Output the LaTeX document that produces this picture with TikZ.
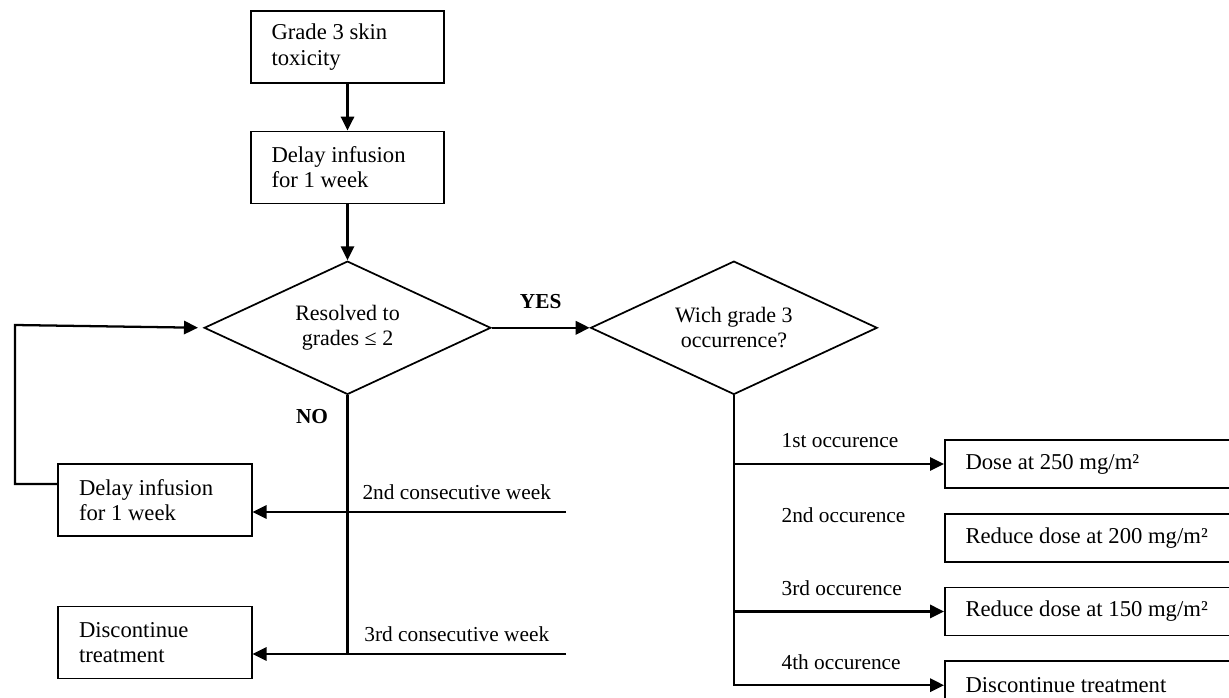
\documentclass[tikz,border=0pt]{standalone}
\usepackage{fontspec}
\setmainfont{Liberation Serif}
\usetikzlibrary{shapes.geometric,arrows.meta,positioning,calc}

\begin{document}
\begin{tikzpicture}[
    x=0.75pt, y=-0.75pt,
    font=\fontsize{16}{19}\selectfont,
    node distance=35pt,
    block/.style={rectangle, draw, line width=1.3pt, font=\fontsize{17}{19}\selectfont, text width=114pt, align=flush left, inner xsep=15.5pt, minimum height=54pt},
    dosebox/.style={rectangle, draw, line width=1.3pt, font=\fontsize{17}{19}\selectfont, text width=194pt, align=flush left, inner xsep=15.5pt, minimum height=36pt},
    decision/.style={diamond, draw, line width=1.3pt, font=\fontsize{16.5}{19}\selectfont, aspect=2.16, minimum width=215pt, minimum height=100pt, inner sep=0pt, align=center},
    line/.style={draw, line width=1.7pt, -{Triangle[length=10.5pt, width=10pt]}},
    plain/.style={draw, line width=1.7pt},
    thinline/.style={draw, line width=1.2pt}
]
    \useasboundingbox (0,0) rectangle (1229,697);
    \clip (0,0) rectangle (1229,697);

    % main column
    \node [block] (skin) at (347.5,47) {Grade 3 skin\\toxicity};
    \node [block, below=of skin] (delay) {Delay infusion\\for 1 week};
    \node [decision, below=42pt of delay] (resolved) {Resolved to\\grades ≤ 2};
    \node [decision, right=73.5pt of resolved] (which) {Wich grade 3\\occurrence?};

    % NO branch
    \node [block] (redelay) at (155,500) {Delay infusion\\for 1 week};
    \node [block] (stop) at (155,642.5) {Discontinue\\treatment};

    % YES branch
    \node [dosebox, anchor=west] (dose1) at (944,464) {Dose at 250 mg/m²};
    \node [dosebox, below=18pt of dose1] (dose2) {Reduce dose at 200 mg/m²};
    \node [dosebox, below=18pt of dose2] (dose3) {Reduce dose at 150 mg/m²};
    \node [dosebox, below=18pt of dose3] (dose4) {Discontinue treatment};

    \coordinate (w2) at (566,512);
    \coordinate (w3) at (566,654);
    \coordinate (back) at (15,325);

    \draw [line] (skin) -- (delay);
    \draw [line] (delay) -- (resolved);
    \draw [line] (resolved) -- node[above=10pt] (yes) {\textbf{YES}} (which);

    \node (no) at (312,417) {\textbf{NO}};
    \draw [plain] (resolved.south) -- (resolved.south |- w3);
    \draw [thinline] (w2) -- node[above=5.5pt] (wk2) {2nd consecutive week} (resolved.south |- w2);
    \draw [line] (resolved.south |- w2) -- (w2 -| redelay.east);
    \draw [thinline] (w3) -- node[above=5.5pt] (wk3) {3rd consecutive week} (resolved.south |- w3);
    \draw [line] (resolved.south |- w3) -- (w3 -| stop.east);
    \draw [line, shorten >=4pt] ([yshift=12pt]redelay.west) -| (back) -- (resolved.west);

    \draw [line] (which.south) |- (dose4);
    \draw [line] (which.south |- dose1) -- (dose1);
    \draw [line] (which.south |- dose3) -- (dose3);
    \node [anchor=west] (occ1) at ($(which.south |- dose1)+(43,-23)$) {1st occurence};
    \node [anchor=west] (occ2) at ($(which.south |- dose2)+(43,-23)$) {2nd occurence};
    \node [anchor=west] (occ3) at ($(which.south |- dose3)+(43,-23)$) {3rd occurence};
    \node [anchor=west] (occ4) at ($(which.south |- dose4)+(43,-23)$) {4th occurence};
\end{tikzpicture}
\end{document}
